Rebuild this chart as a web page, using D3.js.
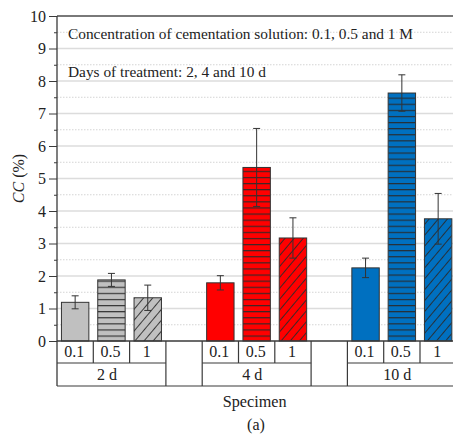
<!DOCTYPE html>
<html>
<head>
<meta charset="utf-8">
<script src="https://cdn.jsdelivr.net/npm/d3@7"></script>
<style>
  html, body { margin: 0; padding: 0; background: #fff; }
  svg { display: block; }
  text { font-family: "Liberation Serif", "Times New Roman", serif; fill: #222; }
</style>
</head>
<body>
<svg id="chart" width="453" height="435"></svg>
<script>
// Carbonate content (CC, %) by treatment days and cementation-solution concentration
const days = ["2 d", "4 d", "10 d"];
const concentrations = ["0.1", "0.5", "1"];
const ccMean2d = [1.19, 1.88, 1.33];
const ccMean4d = [1.79, 5.34, 3.17];
const ccMean10d = [2.25, 7.63, 3.76];
const ccErr2d = [0.20, 0.20, 0.39];
const ccErr4d = [0.22, 1.20, 0.62];
const ccErr10d = [0.30, 0.56, 0.78];
const yTicks = [0, 1, 2, 3, 4, 5, 6, 7, 8, 9, 10];
const dayColors = ["#c0c0c0", "#ff0000", "#0070c0"];
const noteLines = [
  "Concentration of cementation solution: 0.1, 0.5 and 1 M",
  "Days of treatment: 2, 4 and 10 d"
];

const means = [ccMean2d, ccMean4d, ccMean10d];
const errs = [ccErr2d, ccErr4d, ccErr10d];

const svg = d3.select("#chart");
const plotL = 57, plotR = 456.3, plotT = 16, plotB = 341;
const row1 = 363, row2 = 386;
const axisColor = "#3a3a3a";

// slots: three concentrations per day, with an empty spacer slot between days
const slots = [];
days.forEach((d, gi) => {
  concentrations.forEach((c, ci) => slots.push({ key: d + "|" + c, day: d, gi, ci, conc: c }));
  if (gi < days.length - 1) slots.push({ key: "gap" + gi, gap: true, gi });
});

const x = d3.scaleBand().domain(slots.map(s => s.key)).range([plotL, plotR]).padding(0);
const y = d3.scaleLinear().domain([0, 10]).range([plotB, plotT]);
const bw = x.bandwidth();
const barW = bw * 0.755;

// fill patterns: horizontal stripes for 0.5 M, diagonal hatching for 1 M
const defs = svg.append("defs");
dayColors.forEach((col, i) => {
  const ph = defs.append("pattern").attr("id", "hstripe" + i)
    .attr("patternUnits", "userSpaceOnUse").attr("width", 8).attr("height", 6.1);
  ph.append("rect").attr("width", 8).attr("height", 6.1).attr("fill", col);
  ph.append("line").attr("x1", 0).attr("x2", 8).attr("y1", 0.6).attr("y2", 0.6)
    .attr("stroke", "#2a2a2a").attr("stroke-width", 1.1);

  const pd = defs.append("pattern").attr("id", "diag" + i)
    .attr("patternUnits", "userSpaceOnUse").attr("width", 7).attr("height", 7)
    .attr("patternTransform", "rotate(40)");
  pd.append("rect").attr("width", 7).attr("height", 7).attr("fill", col);
  pd.append("line").attr("x1", 0.5).attr("x2", 0.5).attr("y1", 0).attr("y2", 7)
    .attr("stroke", "#2a2a2a").attr("stroke-width", 0.9);
});

// grid: solid at integers, dotted at halves
const grid = svg.append("g");
yTicks.slice(1).forEach(t => {
  grid.append("line").attr("x1", plotL).attr("x2", 453).attr("y1", y(t)).attr("y2", y(t))
    .attr("stroke", "#dcdcdc").attr("stroke-width", 1.6);
});
yTicks.slice(0, -1).forEach(t => {
  grid.append("line").attr("x1", plotL).attr("x2", 453).attr("y1", y(t + 0.5)).attr("y2", y(t + 0.5))
    .attr("stroke", "#d4d4d4").attr("stroke-width", 1).attr("stroke-dasharray", "1.5,1.5");
});

// top frame
svg.append("line").attr("x1", plotL).attr("x2", 453).attr("y1", plotT).attr("y2", plotT)
  .attr("stroke", "#555").attr("stroke-width", 1.3);

// notes inside the plot
const noteWidths = [345, 198];
noteLines.forEach((t, i) => {
  svg.append("text").attr("x", 68).attr("y", 39 + i * 37.5)
    .attr("font-size", 15).attr("textLength", noteWidths[i])
    .attr("lengthAdjust", "spacingAndGlyphs").text(t);
});

// bars
const barData = slots.filter(s => !s.gap).map(s => ({
  ...s, v: means[s.gi][s.ci], e: errs[s.gi][s.ci]
}));
const fillFor = d => d.ci === 0 ? dayColors[d.gi] : (d.ci === 1 ? `url(#hstripe${d.gi})` : `url(#diag${d.gi})`);

svg.append("g").selectAll("rect").data(barData).join("rect")
  .attr("x", d => x(d.key) + (bw - barW) / 2)
  .attr("y", d => y(d.v))
  .attr("width", barW)
  .attr("height", d => y(0) - y(d.v))
  .attr("fill", fillFor)
  .attr("stroke", "#333").attr("stroke-width", 1);

// error bars
const eb = svg.append("g").attr("stroke", "#333").attr("stroke-width", 1);
barData.forEach(d => {
  const cx = x(d.key) + bw / 2;
  eb.append("line").attr("x1", cx).attr("x2", cx).attr("y1", y(d.v + d.e)).attr("y2", y(d.v - d.e));
  [d.v + d.e, d.v - d.e].forEach(v => {
    eb.append("line").attr("x1", cx - 3.5).attr("x2", cx + 3.5).attr("y1", y(v)).attr("y2", y(v));
  });
});

// y axis with major and minor ticks
const yAxis = d3.axisLeft(y).tickValues(yTicks).tickSize(8).tickPadding(3).tickFormat(d3.format("d"));
const gy = svg.append("g").attr("transform", `translate(${plotL},0)`).call(yAxis);
gy.select(".domain").remove();
gy.selectAll(".tick line").attr("stroke", axisColor).attr("stroke-width", 1);
gy.selectAll(".tick text").attr("font-size", 16).attr("font-family", "Liberation Serif").attr("fill", "#222");
const minorAxis = d3.axisLeft(y).tickValues(yTicks.slice(0, -1).map(t => t + 0.5)).tickSize(3).tickFormat("");
const gm = svg.append("g").attr("transform", `translate(${plotL},0)`).call(minorAxis);
gm.select(".domain").remove();
gm.selectAll(".tick line").attr("stroke", axisColor);

svg.append("line").attr("x1", plotL).attr("x2", plotL).attr("y1", plotT).attr("y2", row2)
  .attr("stroke", axisColor).attr("stroke-width", 1.3);
svg.append("line").attr("x1", plotL).attr("x2", 453).attr("y1", plotB).attr("y2", plotB)
  .attr("stroke", axisColor).attr("stroke-width", 1.3);

// category table below the axis
const tbl = svg.append("g").attr("stroke", axisColor).attr("stroke-width", 1.2);
slots.forEach(s => {
  const x0 = x(s.key), x1 = x0 + bw;
  if (s.gap) {
    tbl.append("line").attr("x1", x0).attr("x2", x0).attr("y1", plotB).attr("y2", row2);
    tbl.append("line").attr("x1", x1).attr("x2", x1).attr("y1", plotB).attr("y2", row2);
  } else if (s.ci > 0) {
    tbl.append("line").attr("x1", x0).attr("x2", x0).attr("y1", plotB).attr("y2", row1);
  }
});
days.forEach((d, gi) => {
  const first = slots.find(s => s.gi === gi && !s.gap && s.ci === 0);
  const x0 = x(first.key), x1 = x0 + 3 * bw;
  tbl.append("line").attr("x1", x0).attr("x2", x1).attr("y1", row1).attr("y2", row1);
  svg.append("text").attr("x", (x0 + x1) / 2 - 4.5).attr("y", 380).attr("text-anchor", "middle")
    .attr("font-size", 16).text(d);
});
tbl.append("line").attr("x1", plotL).attr("x2", 453).attr("y1", row2).attr("y2", row2);

svg.append("g").selectAll("text").data(barData).join("text")
  .attr("x", d => x(d.key) + bw / 2 - 1).attr("y", 357).attr("text-anchor", "middle")
  .attr("font-size", 16).text(d => d.conc);

// axis titles
const yl = svg.append("text").attr("transform", `translate(23.5,${(plotT + plotB) / 2}) rotate(-90)`)
  .attr("text-anchor", "middle").attr("font-size", 16);
yl.append("tspan").attr("font-style", "italic").text("CC");
yl.append("tspan").text(" (%)");

svg.append("text").attr("x", 254.7).attr("y", 407).attr("text-anchor", "middle")
  .attr("font-size", 16.2).text("Specimen");
svg.append("text").attr("x", 256).attr("y", 430).attr("text-anchor", "middle")
  .attr("font-size", 16).text("(a)");
</script>
</body>
</html>
